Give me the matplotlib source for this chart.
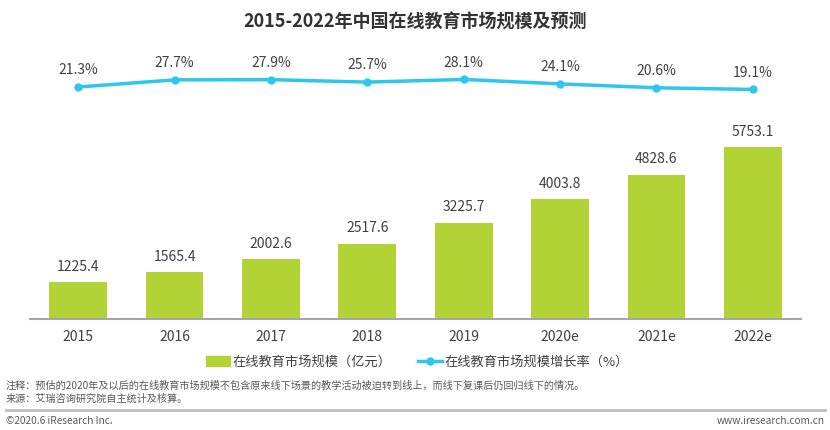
import matplotlib.pyplot as plt
from matplotlib.lines import Line2D
from matplotlib.patches import Patch

plt.rcParams['font.family'] = ['Noto Sans CJK SC', 'DejaVu Sans']

years = ['2015', '2016', '2017', '2018', '2019', '2020e', '2021e', '2022e']
market = [1225.4, 1565.4, 2002.6, 2517.6, 3225.7, 4003.8, 4828.6, 5753.1]
growth = [21.3, 27.7, 27.9, 25.7, 28.1, 24.1, 20.6, 19.1]

bar_color = '#B2D235'
line_color = '#2DC6F0'
text_color = '#404040'

fig = plt.figure(figsize=(8.3, 4.3), dpi=100)
W, H = 830, 430


def px_axes(x0, y0, x1, y1):
    # pixel box (top-left origin) -> figure axes
    return fig.add_axes([x0 / W, 1 - y1 / H, (x1 - x0) / W, (y1 - y0) / H])


x = list(range(len(years)))

# bars
ax = px_axes(30, 140, 801, 319)
ax.bar(x, market, width=0.6, color=bar_color)
ax.set_xlim(-0.5, 7.5)
ax.set_ylim(0, 5986)
for i, v in enumerate(market):
    ax.annotate(f'{v:.1f}', (i, v), xytext=(0, 6), textcoords='offset points',
                ha='center', va='bottom', fontsize=10, color=text_color)
ax.set_xticks(x)
ax.set_xticklabels(years, fontsize=10, color=text_color)
ax.tick_params(axis='x', length=0, pad=8)
ax.set_yticks([])
for s in ['top', 'right', 'left']:
    ax.spines[s].set_visible(False)
ax.spines['bottom'].set_color('#A6A6A6')
ax.spines['bottom'].set_linewidth(1.5)

# growth line
ax2 = px_axes(30, 63, 801, 103)
ax2.plot(x, growth, color=line_color, lw=2.5, marker='o', ms=5)
ax2.set_xlim(-0.5, 7.5)
ax2.set_ylim(6.9, 42.9)
for i, v in enumerate(growth):
    ax2.annotate(f'{v}%', (i, v), xytext=(0, 7), textcoords='offset points',
                 ha='center', va='bottom', fontsize=10, color=text_color)
ax2.axis('off')

fig.text(0.5, 1 - 22 / H, '2015-2022年中国在线教育市场规模及预测', ha='center', va='center',
         fontsize=13, fontweight='bold', color='#333333')

handles = [Patch(color=bar_color),
           Line2D([0], [0], color=line_color, lw=2.5, marker='o', ms=5)]
fig.legend(handles, ['在线教育市场规模（亿元）', '在线教育市场规模增长率（%）'],
           loc='center', bbox_to_anchor=(0.503, 1 - 362 / H), ncol=2, frameon=False,
           fontsize=9.5, labelcolor=text_color, handlelength=1.8, columnspacing=2.0,
           handletextpad=0.2)

fig.text(6 / W, 1 - 386 / H, '注释：预估的2020年及以后的在线教育市场规模不包含原来线下场景的教学活动被迫转到线上，而线下复课后仍回归线下的情况。',
         fontsize=7.3, color='#595959', va='center')
fig.text(6 / W, 1 - 399 / H, '来源：艾瑞咨询研究院自主统计及核算。',
         fontsize=7.3, color='#595959', va='center')
fig.add_artist(Line2D([6 / W, 825 / W], [1 - 410 / H, 1 - 410 / H], color='#BFBFBF', lw=2))
fig.text(6 / W, 1 - 421 / H, '©2020.6 iResearch Inc.', fontsize=7.3, color='#595959', va='center')
fig.text(825 / W, 1 - 421 / H, 'www.iresearch.com.cn', fontsize=7.3, color='#595959',
         va='center', ha='right')

plt.savefig('out.png', dpi=100)
